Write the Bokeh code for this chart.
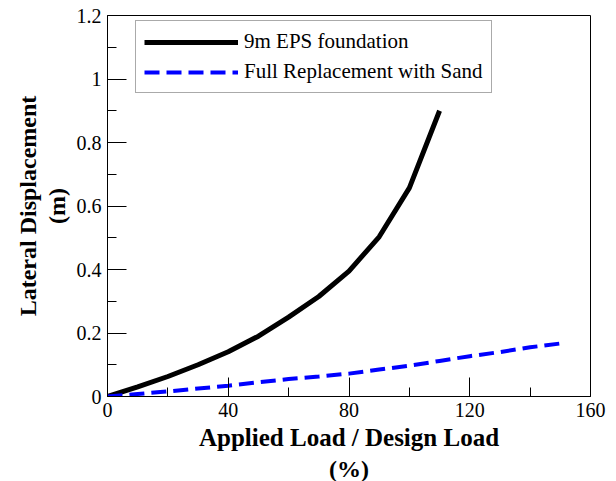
from bokeh.plotting import figure
from bokeh.models import Range1d, FixedTicker, Legend, LegendItem, Title
from bokeh.embed import file_html
from bokeh.resources import INLINE

eps_load = [0, 10, 20, 30, 40, 50, 60, 70, 80, 90, 100, 110]
eps_disp = [0, 0.03, 0.063, 0.10, 0.141, 0.19, 0.25, 0.315, 0.395, 0.503, 0.657, 0.90]

sand_load = [0, 10, 20, 30, 40, 50, 60, 70, 80, 90, 100, 110, 120, 130, 140, 150]
sand_disp = [0, 0.008, 0.016, 0.025, 0.034, 0.045, 0.055, 0.063, 0.072, 0.085,
             0.097, 0.112, 0.127, 0.14, 0.155, 0.167]

x_ticks = [0, 40, 80, 120, 160]
x_minor = [20, 60, 100, 140]
y_ticks = [0, 0.2, 0.4, 0.6, 0.8, 1.0, 1.2]
y_minor = [0.1, 0.3, 0.5, 0.7, 0.9, 1.1]

SERIF = "Liberation Serif"

p = figure(width=608, height=481, output_backend="svg", toolbar_location=None,
           x_range=Range1d(0, 160), y_range=Range1d(0, 1.2),
           min_border_left=107, min_border_right=18, min_border_top=15, min_border_bottom=84)
p.xgrid.visible = False
p.ygrid.visible = False
p.outline_line_color = "black"
p.outline_line_width = 1
p.background_fill_color = "white"
p.border_fill_color = "white"

r1 = p.line(eps_load, eps_disp, line_color="black", line_width=5, line_join="round")
r2 = p.line(sand_load, sand_disp, line_color="blue", line_width=4, line_dash="15 7")

p.xaxis.ticker = FixedTicker(ticks=x_ticks, minor_ticks=x_minor)
p.yaxis.ticker = FixedTicker(ticks=y_ticks, minor_ticks=y_minor)
p.yaxis.major_label_overrides = {0: "0", 1.0: "1", 0.2: "0.2", 0.4: "0.4", 0.6: "0.6", 0.8: "0.8", 1.2: "1.2"}

for ax in (p.xaxis, p.yaxis):
    ax.major_tick_in = 19
    ax.major_tick_out = 0
    ax.minor_tick_in = 9
    ax.minor_tick_out = 0
    ax.major_tick_line_color = "black"
    ax.minor_tick_line_color = "black"
    ax.axis_line_color = "black"
    ax.major_label_text_font = SERIF
    ax.major_label_text_font_size = "20px"
    ax.major_label_text_color = "black"
    ax.axis_label_text_font = SERIF
    ax.axis_label_text_font_style = "bold"
    ax.axis_label_text_font_size = "24px"
    ax.axis_label_text_color = "black"
    ax.major_label_standoff = 6

p.xaxis.axis_label = "Applied Load / Design Load"
p.xaxis.axis_label_text_font_size = "25px"
p.yaxis.axis_label = "(m)"
p.xaxis.axis_label_standoff = 4
p.yaxis.axis_label_standoff = 4

p.add_layout(Title(text="(%)", align="center", text_font=SERIF, text_font_size="24px",
                   text_font_style="bold", text_color="black", standoff=0, offset=0), "below")
p.add_layout(Title(text="Lateral Displacement", align="center", text_font=SERIF, text_font_size="24px",
                   text_font_style="bold", text_color="black", standoff=0, offset=0), "left")

legend = Legend(items=[LegendItem(label="9m EPS foundation", renderers=[r1]),
                       LegendItem(label="Full Replacement with Sand", renderers=[r2])],
                location=(28, 303))
legend.label_text_font = SERIF
legend.label_text_font_size = "21px"
legend.label_text_color = "black"
legend.glyph_width = 94
legend.glyph_height = 22
legend.label_height = 22
legend.label_standoff = 6
legend.spacing = 5
legend.padding = 8
legend.margin = 0
legend.border_line_color = "#555555"
legend.border_line_width = 1
legend.background_fill_alpha = 1
p.add_layout(legend, "center")

open("out.html", "w").write(file_html(p, INLINE))
